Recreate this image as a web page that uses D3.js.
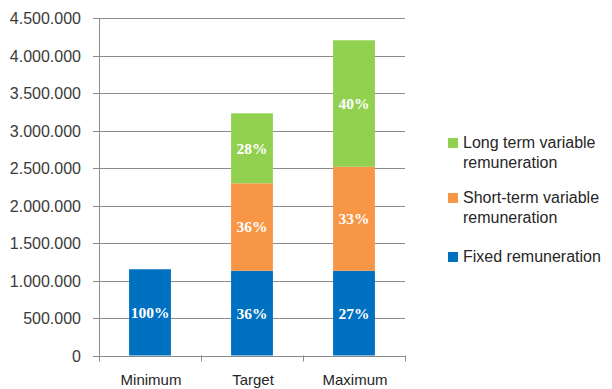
<!DOCTYPE html>
<html>
<head>
<meta charset="utf-8">
<script src="https://cdn.jsdelivr.net/npm/d3@7"></script>
<style>
  html, body { margin: 0; padding: 0; background: #fff; }
  svg { display: block; }
</style>
</head>
<body>
<svg id="chart" width="612" height="389"></svg>
<script>
// Remuneration scenarios
const categories = ["Minimum", "Target", "Maximum"];
const seriesNames = ["Fixed remuneration", "Short-term variable remuneration", "Long term variable remuneration"];
const fixedValues = [1150000, 1130000, 1130000];
const shortTermValues = [0, 1166000, 1387000];
const longTermValues = [0, 933000, 1686000];
const fixedLabels = ["100%", "36%", "27%"];
const shortTermLabels = ["", "36%", "33%"];
const longTermLabels = ["", "28%", "40%"];
const yTicks = [0, 500000, 1000000, 1500000, 2000000, 2500000, 3000000, 3500000, 4000000, 4500000];
const legendLines = [
  ["Long term variable", "remuneration"],
  ["Short-term variable", "remuneration"],
  ["Fixed remuneration"]
];

const colors = ["#0070C0", "#F79646", "#92D050"];
const keys = ["fixed", "short", "long"];
const rows = categories.map((c, i) => ({
  category: c,
  fixed: fixedValues[i],
  short: shortTermValues[i],
  long: longTermValues[i],
  labels: { fixed: fixedLabels[i], short: shortTermLabels[i], long: longTermLabels[i] }
}));

const svg = d3.select("#chart");
const plotLeft = 99, plotRight = 405, plotTop = 18, plotBottom = 355.5;

const x = d3.scaleBand().domain(categories).range([plotLeft, plotRight])
  .paddingInner(0.59).paddingOuter(0.295);
const y = d3.scaleLinear().domain([0, 4500000]).range([plotBottom, plotTop]);

const locale = d3.formatLocale({ decimal: ",", thousands: ".", grouping: [3], currency: ["", ""] });
const fmt = locale.format(",d");

// Horizontal gridlines with short outer ticks
svg.append("g").selectAll("line").data(yTicks).join("line")
  .attr("x1", plotLeft - 6).attr("x2", plotRight)
  .attr("y1", d => Math.round(y(d)) + 0.5).attr("y2", d => Math.round(y(d)) + 0.5)
  .attr("stroke", "#8c8c8c").attr("stroke-width", 1);

// Y tick labels
svg.append("g").selectAll("text").data(yTicks).join("text")
  .attr("x", plotLeft - 18).attr("y", d => Math.round(y(d)) + 0.5)
  .attr("dy", "0.36em")
  .attr("text-anchor", "end")
  .attr("font-family", "Liberation Sans, Arial, sans-serif")
  .attr("font-size", 16)
  .attr("fill", "#3a3a3a")
  .text(d => fmt(d));

// Stacked bars
const stacked = d3.stack().keys(keys)(rows);
const layers = svg.append("g").selectAll("g").data(stacked).join("g")
  .attr("fill", (d, i) => colors[i]);
layers.selectAll("rect").data(d => d.filter(s => s[1] - s[0] > 0)).join("rect")
  .attr("x", d => x(d.data.category))
  .attr("width", x.bandwidth())
  .attr("y", d => y(d[1]))
  .attr("height", d => y(d[0]) - y(d[1]));

// Percentage labels inside segments
stacked.forEach(layer => {
  svg.append("g").selectAll("text").data(layer.filter(s => s[1] - s[0] > 0)).join("text")
    .attr("x", d => x(d.data.category) + x.bandwidth() / 2)
    .attr("y", d => (y(d[0]) + y(d[1])) / 2)
    .attr("dy", "0.35em")
    .attr("text-anchor", "middle")
    .attr("font-family", "Liberation Serif, Times New Roman, serif")
    .attr("font-weight", "bold")
    .attr("font-size", 15.5)
    .attr("fill", "#ffffff")
    .text(d => d.data.labels[layer.key]);
});

// Axis lines
svg.append("line")
  .attr("x1", plotLeft + 0.5).attr("x2", plotLeft + 0.5)
  .attr("y1", plotTop).attr("y2", plotBottom + 6)
  .attr("stroke", "#8c8c8c");
const boundaries = categories.slice(1).map(c => x(c) - x.step() * x.paddingInner() / 2);
boundaries.push(plotRight);
svg.append("g").selectAll("line").data(boundaries).join("line")
  .attr("x1", d => Math.round(d) + 0.5).attr("x2", d => Math.round(d) + 0.5)
  .attr("y1", plotBottom).attr("y2", plotBottom + 6)
  .attr("stroke", "#8c8c8c");

// Category labels
svg.append("g").selectAll("text").data(categories).join("text")
  .attr("x", d => x(d) + x.bandwidth() / 2 + 1)
  .attr("y", 385)
  .attr("text-anchor", "middle")
  .attr("font-family", "Liberation Sans, Arial, sans-serif")
  .attr("font-size", 15)
  .attr("fill", "#262626")
  .text(d => d);

// Legend
const legendY = [148, 203, 262];
const legendColors = [colors[2], colors[1], colors[0]];
const lg = svg.append("g");
legendLines.forEach((lines, i) => {
  lg.append("rect")
    .attr("x", 448).attr("y", legendY[i] - 10)
    .attr("width", 10).attr("height", 10)
    .attr("fill", legendColors[i]);
  const t = lg.append("text")
    .attr("x", 463).attr("y", legendY[i])
    .attr("font-family", "Liberation Sans, Arial, sans-serif")
    .attr("font-size", 16)
    .attr("fill", "#262626");
  lines.forEach((line, j) => {
    t.append("tspan").attr("x", 463).attr("dy", j === 0 ? 0 : 20).text(line);
  });
});
</script>
</body>
</html>
